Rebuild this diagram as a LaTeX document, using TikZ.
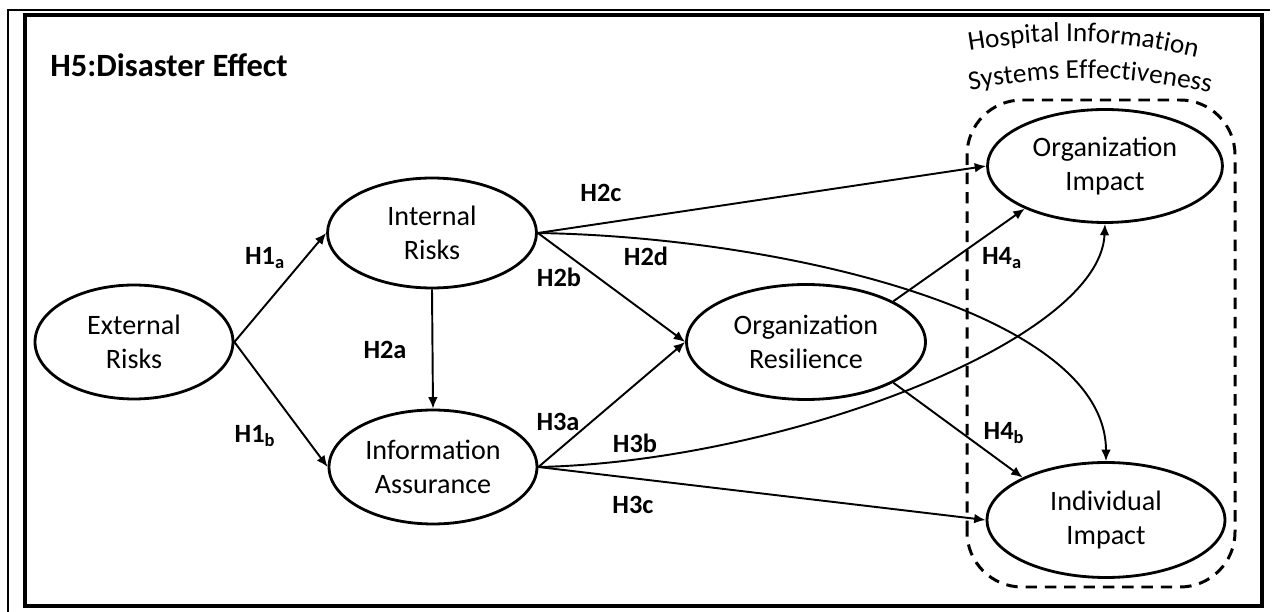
\documentclass[tikz,border=0pt]{standalone}
\usepackage{fontspec}
\setmainfont{Carlito}
\usetikzlibrary{arrows.meta,shapes.geometric,decorations.text}

\tikzset{
  construct/.style={ellipse, draw, line width=1.6pt, align=center, inner sep=0pt,
    font=\fontsize{16}{19}\selectfont},
  hyp/.style={inner sep=0pt, font=\fontsize{15}{17}\selectfont\bfseries},
  link/.style={->, line width=1.1pt},
}

\begin{document}
\begin{tikzpicture}[x=0.02cm, y=0.02cm, >={Latex[length=6.5pt,width=5.5pt]}]
  \useasboundingbox (0,0) rectangle (1279,612);
  \draw[line width=1.1pt] (8,0) -- (8,602) -- (1270,602);
  \draw[line width=2.3pt] (25,6) rectangle (1262,597);
  \draw[line width=1.7pt, dash pattern=on 6.5pt off 4.5pt, rounded corners=1.1cm]
    (967,25) rectangle (1235,512);

  \node[construct, minimum width=3.96cm, minimum height=2.28cm] (ER) at (134,270) {External\\Risks};
  \node[construct, minimum width=4.18cm, minimum height=2.2cm] (IR) at (432,379) {Internal\\Risks};
  \node[construct, minimum width=4.16cm, minimum height=2.28cm] (IA) at (433,145) {Information\\Assurance};
  \node[construct, minimum width=4.78cm, minimum height=2.3cm] (OR) at (806,270) {Organization\\Resilience};
  \node[construct, minimum width=4.7cm, minimum height=2.26cm] (OI) at (1105,446) {Organization\\Impact};
  \node[construct, minimum width=4.76cm, minimum height=2.3cm] (II) at (1106,92) {Individual\\Impact};

  \node[anchor=west, inner sep=0pt, font=\fontsize{18.5}{22}\selectfont\bfseries] (title) at (50,547) {H5:Disaster Effect};
  \path[decorate, decoration={text along path, text align=center,
      text={|\fontsize{15.5}{18}\selectfont|Hospital Information}}]
    (950,558) to[bend left=12] (1216,550);
  \path[decorate, decoration={text along path, text align=center,
      text={|\fontsize{15.5}{18}\selectfont|Systems Effectiveness}}]
    (950,518) to[bend left=12] (1230,515);

  \draw[link] (ER.east) -- (IR.west);
  \draw[link] (ER.east) -- (IA.west);
  \draw[link] (IR.south) -- (IA.north);
  \draw[link] (IR.east) -- (OR.west);
  \draw[link] (IR.east) -- (OI.west);
  \draw[link] (IR.east) .. controls (780,375) and (1106,300) .. (II.north);
  \draw[link] (IA.east) -- (OR.west);
  \draw[link] (IA.east) .. controls (780,150) and (1100,270) .. (OI.south);
  \draw[link] (IA.east) -- (II.west);
  \draw[link] (OR.25) -- (OI.208);
  \draw[link] (OR.-25) -- (II.153);

  \node[hyp] (h1a) at (265,354) {H1\textsubscript{a}};
  \node[hyp] (h1b) at (255,176) {H1\textsubscript{b}};
  \node[hyp] (h2a) at (385,262) {H2a};
  \node[hyp] (h2b) at (559,335) {H2b};
  \node[hyp] (h2c) at (601,419) {H2c};
  \node[hyp] (h2d) at (646,356) {H2d};
  \node[hyp] (h3a) at (558,190) {H3a};
  \node[hyp] (h3b) at (635,169) {H3b};
  \node[hyp] (h3c) at (633,107) {H3c};
  \node[hyp] (h4a) at (1002,354) {H4\textsubscript{a}};
  \node[hyp] (h4b) at (1004,179) {H4\textsubscript{b}};
\end{tikzpicture}
\end{document}
